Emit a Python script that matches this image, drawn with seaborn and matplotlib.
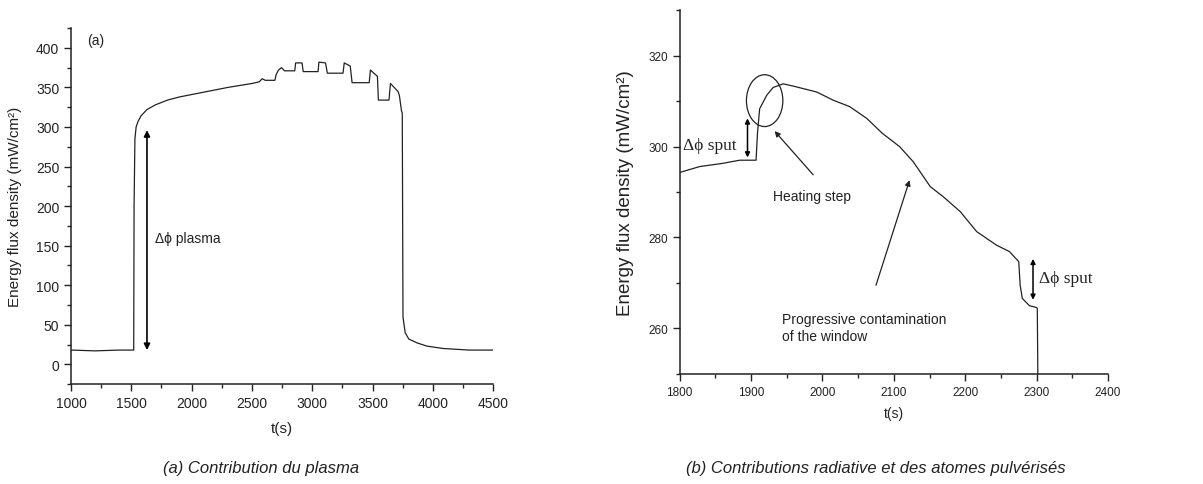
"""
Energy flux density traces: (a) plasma contribution, (b) radiative + sputtered atoms.
"""

import numpy as np
import pandas as pd
import matplotlib
matplotlib.use("Agg")
import matplotlib.pyplot as plt
from matplotlib.patches import Ellipse
from matplotlib.ticker import MultipleLocator
import seaborn as sns


# --- data --------------------------------------------------------------------
# panel (a): plasma on/off, t in s, flux in mW/cm2
plasma_t = [1000, 1200, 1400, 1520, 1523, 1530, 1540, 1556, 1580, 1630, 1700,
            1800, 1900, 2000, 2100, 2200, 2300, 2400, 2500, 2560, 2585, 2610,
            2690, 2700, 2720, 2745, 2770, 2855, 2862, 2915, 2925, 3048, 3055,
            3110, 3125, 3255, 3265, 3315, 3330, 3472, 3482, 3540, 3548, 3636,
            3648, 3710, 3722, 3740, 3746, 3752, 3770, 3800, 3870, 3950, 4085,
            4300, 4500]
plasma_flux = [18, 17, 18, 18, 200, 285, 300, 307, 314, 322, 328,
               334, 338, 341, 344, 347, 350, 352.5, 355, 357, 361, 359,
               359, 366, 372, 375, 371, 371, 381, 381, 370, 370, 382,
               381, 368, 368, 381, 377, 356, 356, 372, 364, 334, 334,
               355, 345, 340, 320, 318, 60, 40, 32, 27, 23, 20,
               18, 18]

# panel (b): zoom on the heating step / contamination
rad_t = [1800, 1828, 1860, 1884, 1907, 1909, 1912, 1922, 1931, 1945, 1959,
         1992, 2015, 2038, 2062, 2084, 2108, 2127, 2151, 2169, 2193, 2216,
         2244, 2262, 2275, 2277, 2280, 2290, 2300, 2301, 2302]
rad_flux = [294.3, 295.6, 296.3, 297.0, 297.0, 303.0, 308.3, 311.3, 313.0,
            313.8, 313.3, 312.0, 310.2, 308.8, 306.2, 302.9, 300.0, 296.7,
            291.2, 289.0, 285.7, 281.3, 278.3, 276.9, 274.7, 269.5, 266.6,
            265.0, 264.6, 264.4, 245.0]

plasma = pd.DataFrame({"t": plasma_t, "flux": plasma_flux})
radiative = pd.DataFrame({"t": rad_t, "flux": rad_flux})

# --- style -------------------------------------------------------------------
sns.set_style("ticks")
plt.rcParams['font.family'] = ['Liberation Sans', 'DejaVu Sans']
plt.rcParams['xtick.direction'] = 'out'
plt.rcParams['ytick.direction'] = 'out'

ink = '#222222'
serif = ['Liberation Serif', 'DejaVu Serif']

fig = plt.figure(figsize=(12.03, 4.85), dpi=100)
ax_a = fig.add_axes([0.059, 0.206, 0.351, 0.734])
ax_b = fig.add_axes([0.565, 0.227, 0.356, 0.750])

# --- panel (a) ---------------------------------------------------------------
sns.lineplot(data=plasma, x="t", y="flux", ax=ax_a, sort=False, estimator=None,
             color=ink, linewidth=0.9)
ax_a.set_xlim(1000, 4500)
ax_a.set_ylim(-25, 425)
ax_a.xaxis.set_major_locator(MultipleLocator(500))
ax_a.xaxis.set_minor_locator(MultipleLocator(250))
ax_a.yaxis.set_major_locator(MultipleLocator(50))
ax_a.yaxis.set_minor_locator(MultipleLocator(25))
ax_a.set_yticks(np.arange(0, 401, 50))
ax_a.tick_params(labelsize=10, colors=ink, length=5, width=1)
ax_a.tick_params(which='minor', length=3, width=1)
ax_a.set_xlabel("t(s)", fontsize=11, color=ink, labelpad=8)
ax_a.set_ylabel("Energy flux density (mW/cm²)", fontsize=11, color=ink, labelpad=10)

ax_a.annotate("", xy=(1630, 296), xytext=(1630, 18),
              arrowprops=dict(arrowstyle='<|-|>', color='black', lw=1.2,
                              mutation_scale=9, shrinkA=0, shrinkB=0))
ax_a.text(1700, 160, "Δϕ plasma", fontsize=10, color=ink, va='center')
ax_a.text(1130, 410, "(a)", fontsize=10, color=ink, va='center')

# --- panel (b) ---------------------------------------------------------------
sns.lineplot(data=radiative, x="t", y="flux", ax=ax_b, sort=False, estimator=None,
             color=ink, linewidth=0.9)
ax_b.set_xlim(1800, 2400)
ax_b.set_ylim(250, 330)
ax_b.xaxis.set_major_locator(MultipleLocator(100))
ax_b.xaxis.set_minor_locator(MultipleLocator(50))
ax_b.set_yticks([260, 280, 300, 320])
ax_b.yaxis.set_minor_locator(MultipleLocator(10))
ax_b.tick_params(labelsize=8.5, colors=ink, length=5, width=1)
ax_b.tick_params(which='minor', length=3, width=1)
ax_b.set_xlabel("t(s)", fontsize=10, color=ink, labelpad=6)
ax_b.set_ylabel("Energy flux density (mW/cm²)", fontsize=13.5, color=ink, labelpad=10)

# heating step circle + labels
ax_b.add_patch(Ellipse((1919, 310.1), width=51, height=11.4, fill=False,
                       edgecolor=ink, linewidth=0.9))
ax_b.annotate("", xy=(1895, 306.2), xytext=(1895, 297.6),
              arrowprops=dict(arrowstyle='<|-|>', color='black', lw=1.1,
                              mutation_scale=7, shrinkA=0, shrinkB=0))
ax_b.text(1805, 300.4, "Δϕ sput", fontsize=12.5, color=ink, va='center', family=serif)
ax_b.annotate("", xy=(1933, 303.4), xytext=(1987, 293.8),
              arrowprops=dict(arrowstyle='-|>', color=ink, lw=0.9,
                              mutation_scale=8, shrinkA=0, shrinkB=0))
ax_b.text(1931, 289.2, "Heating step", fontsize=10, color=ink, va='center')

ax_b.annotate("", xy=(2122, 292.6), xytext=(2075, 269.5),
              arrowprops=dict(arrowstyle='-|>', color=ink, lw=0.9,
                              mutation_scale=8, shrinkA=0, shrinkB=0))
ax_b.text(1944, 260.2, "Progressive contamination\nof the window", fontsize=10,
          color=ink, va='center', linespacing=1.3)

ax_b.annotate("", xy=(2295, 275.3), xytext=(2295, 266.3),
              arrowprops=dict(arrowstyle='<|-|>', color='black', lw=1.1,
                              mutation_scale=7, shrinkA=0, shrinkB=0))
ax_b.text(2303, 271.0, "Δϕ sput", fontsize=12.5, color=ink, va='center', family=serif)

for ax in (ax_a, ax_b):
    sns.despine(ax=ax)
    for side in ('left', 'bottom'):
        ax.spines[side].set_color(ink)
        ax.spines[side].set_linewidth(1.1)

# --- captions ----------------------------------------------------------------
fig.text(0.217, 0.035, "(a) Contribution du plasma", fontsize=12, style='italic',
         ha='center', va='center', color=ink)
fig.text(0.728, 0.035, "(b) Contributions radiative et des atomes pulvérisés",
         fontsize=12, style='italic', ha='center', va='center', color=ink)

fig.savefig("out.png", dpi=100)
